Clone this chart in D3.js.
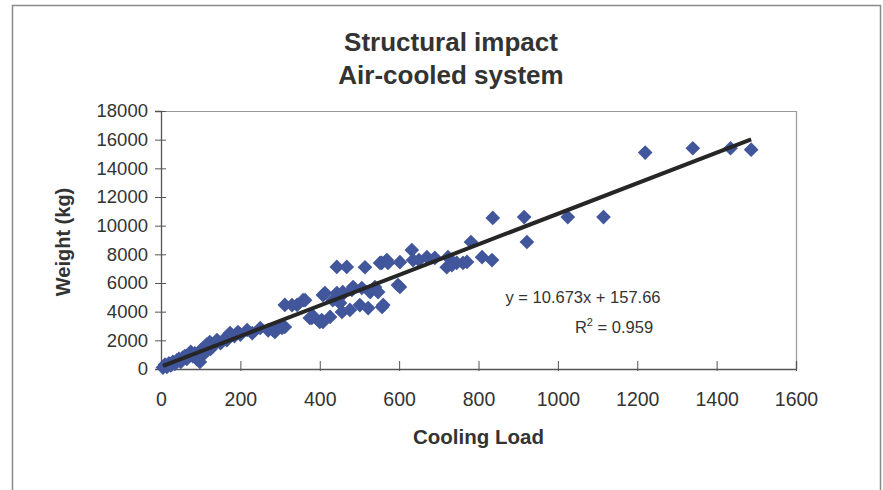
<!DOCTYPE html>
<html>
<head>
<meta charset="utf-8">
<script src="https://cdn.jsdelivr.net/npm/d3@7"></script>
<style>
  body { margin: 0; background: #fff; }
  text { font-family: "Liberation Sans", Arial, sans-serif; fill: #333; }
</style>
</head>
<body>
<script>
// cooling load (x) and weight in kg (y)
const load = [
  5, 10, 15, 20, 25, 30, 35, 40, 45, 50, 55, 60, 65, 70, 75, 80, 85, 90, 98, 100,
  106, 110, 115, 123, 125, 130, 141, 150, 160, 166, 174, 185, 194, 200, 217, 230, 250, 270, 282, 287,
  300, 305, 312, 312, 330, 343, 358, 363, 375, 380, 383, 400, 405, 408, 408, 413, 426, 433, 443, 443,
  451, 456, 456, 458, 468, 476, 481, 484, 501, 506, 514, 522, 527, 539, 547, 552, 556, 557, 560, 569,
  572, 597, 602, 602, 632, 635, 650, 670, 690, 720, 723, 733, 745, 761, 771, 781, 809, 834, 836, 915,
  922, 1025, 1115, 1220, 1340, 1435, 1487
];
const weight = [
  100, 300, 150, 400, 250, 500, 350, 600, 700, 500, 800, 900, 700, 1000, 1200, 900, 1100, 700, 490, 1300,
  1460, 1100, 1700, 1880, 1400, 1600, 2020, 1800, 2100, 2020, 2510, 2300, 2580, 2400, 2720, 2500, 2860, 2700, 2720, 2580,
  3000, 2860, 2930, 4470, 4460, 4470, 4800, 4800, 3560, 3560, 3700, 3280, 3420, 3280, 5160, 5300, 3630, 4800, 5300, 7120,
  4600, 3980, 5160, 5370, 7120, 4120, 5510, 5720, 4460, 5650, 7100, 4250, 5370, 5720, 5370, 7400, 7400, 4330, 4460, 7600,
  7400, 5860, 7450, 5720, 8300, 7600, 7600, 7800, 7750, 7100, 7800, 7250, 7400, 7400, 7470, 8860, 7800, 7600, 10540, 10600,
  8860, 10600, 10600, 15100, 15400, 15400, 15300
];

const xTicks = [0, 200, 400, 600, 800, 1000, 1200, 1400, 1600];
const yTicks = [0, 2000, 4000, 6000, 8000, 10000, 12000, 14000, 16000, 18000];

const titleLines = ["Structural impact", "Air-cooled system"];
const xTitle = "Cooling Load";
const yTitle = "Weight (kg)";

// linear trendline as reported on the chart
const slope = 10.673;
const intercept = 157.66;
const rSquared = 0.959;

const width = 883, height = 490;
const margin = {top: 111, right: 87, bottom: 121, left: 161};

const data = load.map((d, i) => [d, weight[i]]);

const svg = d3.select("body").append("svg")
    .attr("width", width)
    .attr("height", height);

// outer chart frame
svg.append("path")
    .attr("d", `M12.5,${height}V5.5H880.5V${height}`)
    .attr("fill", "none")
    .attr("stroke", "#8a8a8a")
    .attr("stroke-width", 1.5);

const x = d3.scaleLinear()
    .domain([0, 1600])
    .range([margin.left, width - margin.right]);

const y = d3.scaleLinear()
    .domain([0, 18000])
    .range([height - margin.bottom, margin.top]);

// plot area border (top + right)
svg.append("path")
    .attr("d", `M${x(0)},${y(18000) + 0.5}H${x(1600) + 0.5}V${y(0)}`)
    .attr("fill", "none")
    .attr("stroke", "#999")
    .attr("stroke-width", 1.2);

const xAxis = g => g
  .attr("transform", `translate(0,${y(0)})`)
  .call(d3.axisBottom(x).tickValues(xTicks).tickSize(-8).tickPadding(23).tickFormat(d3.format("d")))
  .call(g => g.select(".domain").attr("stroke", "#555").attr("stroke-width", 1.3))
  .call(g => g.selectAll(".tick line").attr("stroke", "#555").attr("y2", -8).attr("y1", 2))
  .call(g => g.selectAll(".tick text").attr("font-size", 19.5).attr("fill", "#333"));

const yAxis = g => g
  .attr("transform", `translate(${x(0)},0)`)
  .call(d3.axisLeft(y).tickValues(yTicks).tickSize(6).tickPadding(7).tickFormat(d3.format("d")))
  .call(g => g.select(".domain").attr("stroke", "#555").attr("stroke-width", 1.3))
  .call(g => g.selectAll(".tick line").attr("stroke", "#555").attr("x1", 5))
  .call(g => g.selectAll(".tick text").attr("font-size", 18.5).attr("fill", "#333"));

svg.append("g").call(xAxis);
svg.append("g").call(yAxis);

// diamonds
const diamond = d3.symbol().type(d3.symbolSquare).size(108);
svg.append("g")
  .selectAll("path")
  .data(data)
  .join("path")
    .attr("transform", d => `translate(${x(d[0])},${y(d[1])}) rotate(45)`)
    .attr("d", diamond)
    .attr("fill", "#41569b");

// trendline
const xr = d3.extent(load);
const line = d3.line()
    .x(d => x(d))
    .y(d => y(slope * d + intercept));

svg.append("path")
    .datum(xr)
    .attr("fill", "none")
    .attr("stroke", "#262626")
    .attr("stroke-width", 4)
    .attr("d", line);

// equation label
svg.append("text")
    .attr("x", 583)
    .attr("y", 303)
    .attr("text-anchor", "middle")
    .attr("font-size", 16.5)
    .text(`y = ${slope}x + ${intercept}`);

const r2 = svg.append("text")
    .attr("x", 614)
    .attr("y", 333)
    .attr("text-anchor", "middle")
    .attr("font-size", 16.5);
r2.append("tspan").text("R");
r2.append("tspan").attr("font-size", 11).attr("dy", -7).text("2");
r2.append("tspan").attr("dy", 7).text(` = ${rSquared}`);

// titles
svg.append("g")
  .selectAll("text")
  .data(titleLines)
  .join("text")
    .attr("x", 451)
    .attr("y", (d, i) => 51 + i * 33)
    .attr("text-anchor", "middle")
    .attr("font-size", 26)
    .attr("font-weight", "bold")
    .text(d => d);

svg.append("text")
    .attr("x", x(800))
    .attr("y", 444)
    .attr("text-anchor", "middle")
    .attr("font-size", 20.5)
    .attr("font-weight", "bold")
    .text(xTitle);

svg.append("text")
    .attr("transform", `translate(70,${y(9000) + 2}) rotate(-90)`)
    .attr("text-anchor", "middle")
    .attr("font-size", 20)
    .attr("font-weight", "bold")
    .text(yTitle);
</script>
</body>
</html>
